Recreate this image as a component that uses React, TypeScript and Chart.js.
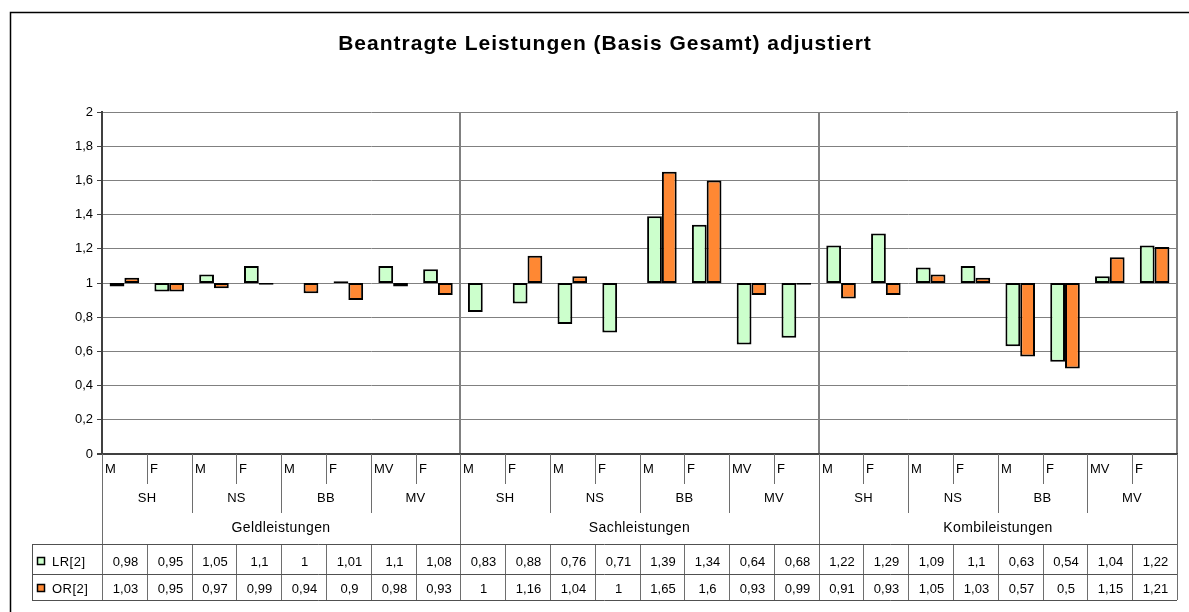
import React, { useEffect, useRef } from 'react';
import { Chart, registerables } from 'chart.js';

Chart.register(...registerables);

// ---- data ----
const categories = [
  'M', 'F', 'M', 'F', 'M', 'F', 'MV', 'F',
  'M', 'F', 'M', 'F', 'M', 'F', 'MV', 'F',
  'M', 'F', 'M', 'F', 'M', 'F', 'MV', 'F',
];
const states = ['SH', 'NS', 'BB', 'MV'];
const groups = ['Geldleistungen', 'Sachleistungen', 'Kombileistungen'];
const seriesNames = ['LR[2]', 'OR[2]'];
const lrValues = [
  0.98, 0.95, 1.05, 1.1, 1, 1.01, 1.1, 1.08,
  0.83, 0.88, 0.76, 0.71, 1.39, 1.34, 0.64, 0.68,
  1.22, 1.29, 1.09, 1.1, 0.63, 0.54, 1.04, 1.22,
];
const orValues = [
  1.03, 0.95, 0.97, 0.99, 0.94, 0.9, 0.98, 0.93,
  1, 1.16, 1.04, 1, 1.65, 1.6, 0.93, 0.99,
  0.91, 0.93, 1.05, 1.03, 0.57, 0.5, 1.15, 1.21,
];
const baseValue = 1;
const yMin = 0;
const yMax = 2;
const yStep = 0.2;
const titleText = 'Beantragte Leistungen (Basis Gesamt) adjustiert';

const colors = ['#ccffcc', '#ff8833'];
const FONT = 'Arial, "Liberation Sans", sans-serif';

const fmt = (v: number) => String(v).replace('.', ',');

const setSpacing = (ctx: any, s: string) => {
  try {
    ctx.letterSpacing = s;
  } catch (e) {
    /* ignore */
  }
};

const decorPlugin = {
  id: 'excelDecor',
  beforeDatasetsDraw(chart: any) {
    const { ctx, chartArea: a } = chart;
    const xs = chart.scales.x;
    const n = categories.length;
    const cw = (a.right - a.left) / n;
    const per = n / groups.length;
    ctx.save();
    ctx.strokeStyle = '#808080';
    ctx.lineWidth = 2;
    for (let g = 1; g < groups.length; g++) {
      const x = Math.round(xs.getPixelForValue(g * per) - cw / 2);
      ctx.beginPath();
      ctx.moveTo(x, a.top);
      ctx.lineTo(x, a.bottom);
      ctx.stroke();
    }
    ctx.beginPath();
    ctx.moveTo(a.right, a.top - 1);
    ctx.lineTo(a.right, a.bottom);
    ctx.stroke();
    ctx.restore();
  },
  afterDraw(chart: any) {
    const { ctx, chartArea: a } = chart;
    const xs = chart.scales.x;
    const n = categories.length;
    const cw = (a.right - a.left) / n;
    const per = n / groups.length;
    const edge = (i: number) => Math.round(xs.getPixelForValue(i) - cw / 2);
    const line = (x1: number, y1: number, x2: number, y2: number) => {
      ctx.beginPath();
      ctx.moveTo(x1, y1);
      ctx.lineTo(x2, y2);
      ctx.stroke();
    };
    ctx.save();

    // zero line
    ctx.strokeStyle = '#404040';
    ctx.lineWidth = 2;
    line(a.left - 5, a.bottom, a.right + 1, a.bottom);

    const yMF = a.bottom + 30;
    const yState = a.bottom + 59;
    const tableTop = a.bottom + 90;
    const rowMid = tableTop + 30;
    const tableBottom = tableTop + 56;
    const legendLeft = 32;

    // category axis dividers
    ctx.strokeStyle = '#6e6e6e';
    ctx.lineWidth = 1;
    for (let i = 0; i <= n; i++) {
      const x = (i === n ? Math.round(a.right) : edge(i)) + 0.5;
      if (i % per === 0) {
        line(x, a.bottom, x, tableBottom);
      } else if (i % 2 === 0) {
        line(x, a.bottom, x, yState);
        line(x, tableTop, x, tableBottom);
      } else {
        line(x, a.bottom, x, yMF);
        line(x, tableTop, x, tableBottom);
      }
    }
    // table horizontal lines
    ctx.strokeStyle = '#505050';
    line(legendLeft, tableTop + 0.5, a.right, tableTop + 0.5);
    line(legendLeft, rowMid + 0.5, a.right, rowMid + 0.5);
    line(legendLeft, tableBottom + 0.5, a.right, tableBottom + 0.5);
    line(legendLeft + 0.5, tableTop, legendLeft + 0.5, tableBottom);

    // labels
    ctx.fillStyle = '#000';
    ctx.font = `13px ${FONT}`;
    ctx.textBaseline = 'middle';
    ctx.textAlign = 'left';
    categories.forEach((c, i) => {
      ctx.fillText(c, edge(i) + 3, a.bottom + 15);
    });
    ctx.textAlign = 'center';
    setSpacing(ctx, '0.3px');
    for (let s = 0; s < n / 2; s++) {
      const x = (edge(2 * s) + (2 * s + 2 === n ? a.right : edge(2 * s + 2))) / 2;
      ctx.fillText(states[s % states.length], x, a.bottom + 44);
    }
    ctx.font = `14px ${FONT}`;
    setSpacing(ctx, '0.4px');
    groups.forEach((g, gi) => {
      const x1 = edge(gi * per);
      const x2 = gi === groups.length - 1 ? a.right : edge((gi + 1) * per);
      ctx.fillText(g, (x1 + x2) / 2, a.bottom + 74);
    });
    setSpacing(ctx, '0px');

    // table values
    ctx.font = `13px ${FONT}`;
    const rows = [lrValues, orValues];
    const rowCenters = [tableTop + 18, rowMid + 15];
    rows.forEach((vals, r) => {
      vals.forEach((v, i) => {
        const x1 = edge(i);
        const x2 = i === n - 1 ? a.right : edge(i + 1);
        ctx.fillText(fmt(v), (x1 + x2) / 2 + 1, rowCenters[r]);
      });
      // legend key
      const ky = Math.round(rowCenters[r]);
      ctx.fillStyle = colors[r];
      ctx.fillRect(37.5, ky - 4.5, 7, 7);
      ctx.strokeStyle = '#000';
      ctx.lineWidth = 1.5;
      ctx.strokeRect(37.5, ky - 4.5, 7, 7);
      ctx.fillStyle = '#000';
      ctx.textAlign = 'left';
      setSpacing(ctx, '0.5px');
      ctx.fillText(seriesNames[r], 52, rowCenters[r]);
      setSpacing(ctx, '0px');
      ctx.textAlign = 'center';
    });

    // title
    ctx.font = `bold 21px ${FONT}`;
    ctx.textAlign = 'center';
    setSpacing(ctx, '1px');
    ctx.fillText(titleText, 605, 44);
    setSpacing(ctx, '0px');

    // outer chart border
    ctx.strokeStyle = '#000';
    ctx.lineWidth = 1.5;
    ctx.beginPath();
    ctx.moveTo(10.5, 620);
    ctx.lineTo(10.5, 12.5);
    ctx.lineTo(1200, 12.5);
    ctx.stroke();

    ctx.restore();
  },
};

export default function App() {
  const canvasRef = useRef<HTMLCanvasElement | null>(null);

  useEffect(() => {
    document.body.style.margin = '0';
    const canvas = canvasRef.current;
    if (!canvas) return;
    const chart = new Chart(canvas, {
      type: 'bar',
      data: {
        labels: categories,
        datasets: [
          {
            label: seriesNames[0],
            data: lrValues.map((v) => [baseValue, v]) as any,
            backgroundColor: colors[0],
            borderColor: '#000',
            borderWidth: 2,
            borderSkipped: false,
          },
          {
            label: seriesNames[1],
            data: orValues.map((v) => [baseValue, v]) as any,
            backgroundColor: colors[1],
            borderColor: '#000',
            borderWidth: 2,
            borderSkipped: false,
          },
        ],
      },
      options: {
        animation: false,
        responsive: true,
        maintainAspectRatio: false,
        datasets: { bar: { categoryPercentage: 0.66, barPercentage: 1 } },
        layout: { padding: { left: 62, top: 112, right: 12, bottom: 158 } },
        plugins: {
          legend: { display: false },
          tooltip: { enabled: false },
          title: { display: false },
        },
        scales: {
          x: { display: false, offset: true },
          y: {
            min: yMin,
            max: yMax,
            afterFit: (scale: any) => {
              scale.width = 40;
            },
            ticks: {
              stepSize: yStep,
              color: '#000',
              font: { family: FONT, size: 13 },
              padding: 4,
              callback: (v: any) => Number(v).toFixed(1).replace(/\.0$/, '').replace('.', ','),
            },
            grid: { color: '#808080', lineWidth: 1, tickLength: 5, tickColor: '#404040' },
            border: { display: true, color: '#404040', width: 2 },
          },
        },
      },
      plugins: [decorPlugin],
    });
    return () => chart.destroy();
  }, []);

  return (
    <div style={{ width: 1189, height: 612, position: 'relative' }}>
      <canvas ref={canvasRef} />
    </div>
  );
}
